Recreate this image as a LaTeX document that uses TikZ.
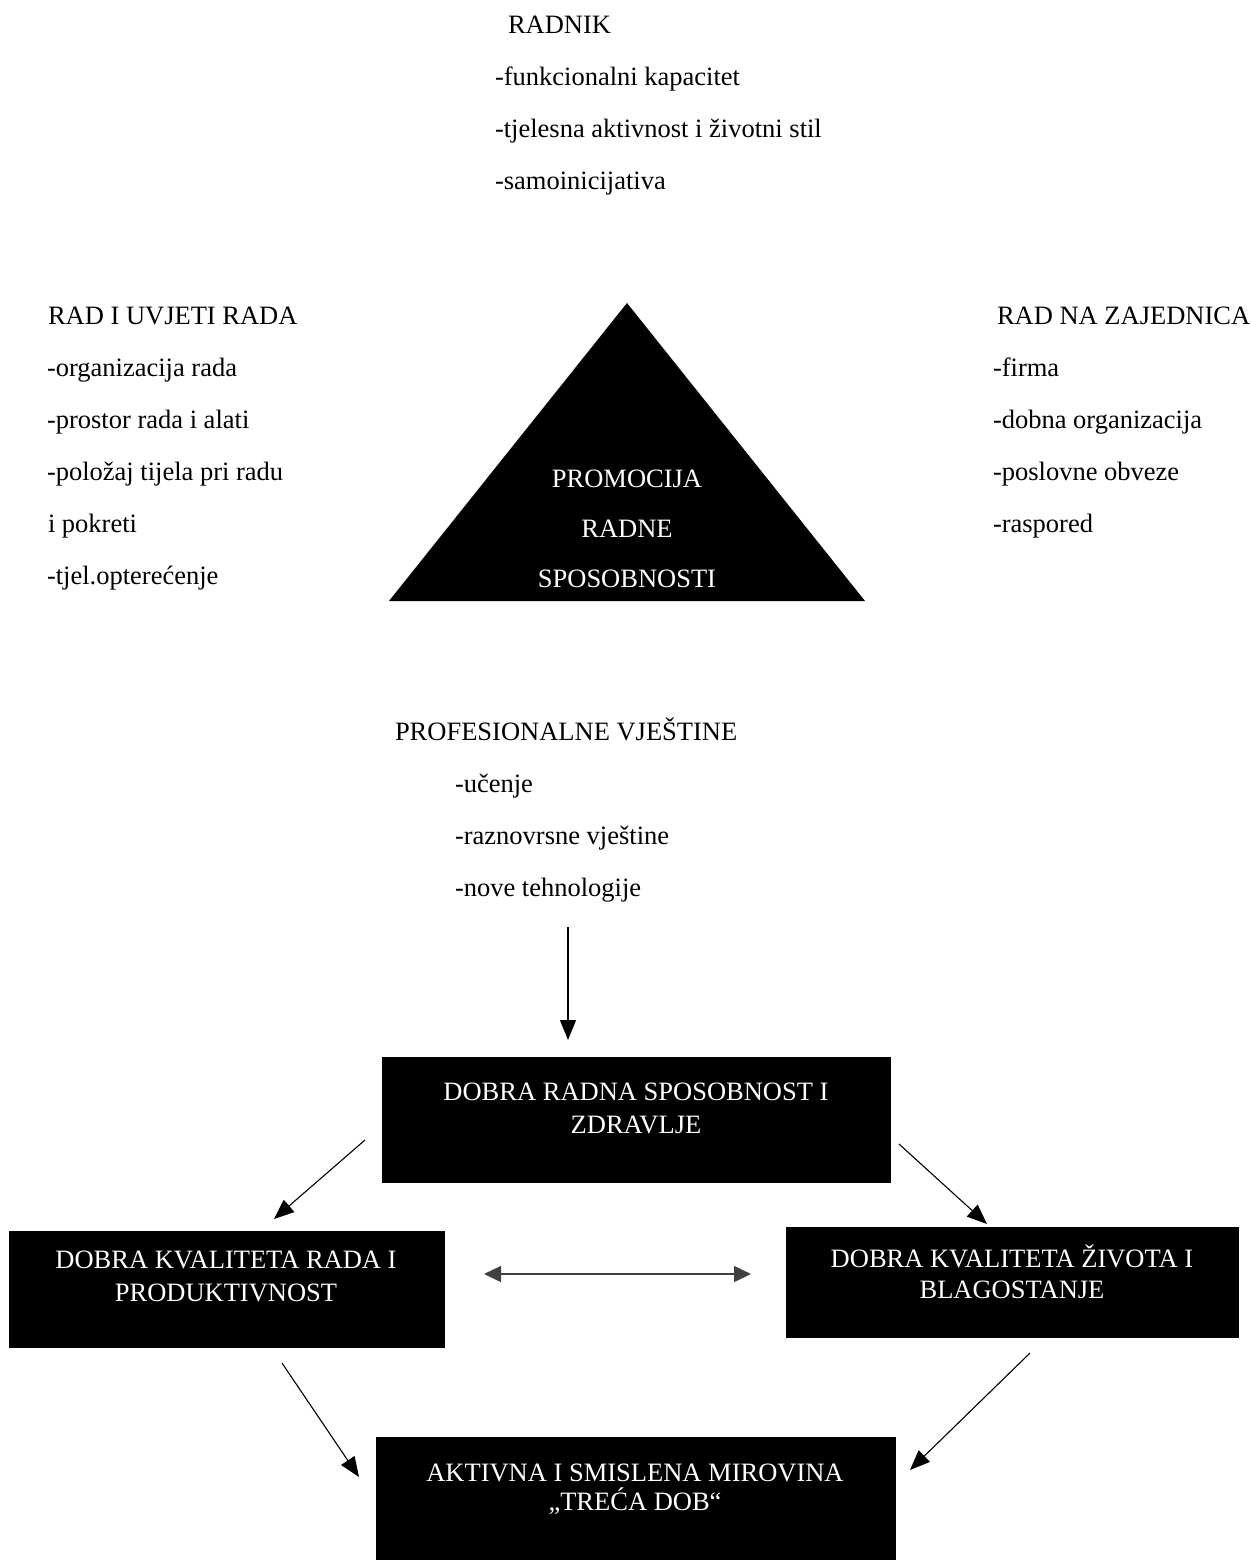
\documentclass[tikz,border=0pt]{standalone}
\usepackage{fontspec}
\setmainfont{Liberation Serif}
\usetikzlibrary{arrows.meta}

\begin{document}
\begin{tikzpicture}[x=0.5pt, y=-0.5pt,
    every node/.style={font=\fontsize{13.25}{16}\selectfont, inner sep=0pt, outer sep=0pt},
    txt/.style={anchor=base west},
    wtxt/.style={anchor=base, text=white},
    blackbox/.style={fill=black, draw=black, line width=0.4pt},
    arr/.style={-{Triangle[length=10pt, width=8pt]}, line width=0.55pt},
    darr/.style={{Triangle[length=8.5pt, width=8pt]}-{Triangle[length=8.5pt, width=8pt]}, line width=0.7pt, draw=black!75}]
    \useasboundingbox (0,0) rectangle (1251,1560);

    \node[txt] (radnik) at (508,33) {RADNIK};
    \node[txt] (radnikA) at (495,85) {-funkcionalni kapacitet};
    \node[txt] (radnikB) at (495,137) {-tjelesna aktivnost i životni stil};
    \node[txt] (radnikC) at (495,189) {-samoinicijativa};

    \node[txt] (uvjeti) at (48,324) {RAD I UVJETI RADA};
    \node[txt] (uvjetiA) at (47,376) {-organizacija rada};
    \node[txt] (uvjetiB) at (47,428) {-prostor rada i alati};
    \node[txt] (uvjetiC) at (47,480) {-položaj tijela pri radu};
    \node[txt] (uvjetiD) at (48,532) {i pokreti};
    \node[txt] (uvjetiE) at (47,584) {-tjel.opterećenje};

    \node[txt] (zajednica) at (997,324) {RAD NA ZAJEDNICA};
    \node[txt] (zajednicaA) at (993,376) {-firma};
    \node[txt] (zajednicaB) at (993,428) {-dobna organizacija};
    \node[txt] (zajednicaC) at (993,480) {-poslovne obveze};
    \node[txt] (zajednicaD) at (993,532) {-raspored};

    \coordinate (apex) at (627,303);
    \coordinate (baseL) at (389,601);
    \coordinate (baseR) at (865,601);
    \fill (apex) -- (baseL) -- (baseR) -- cycle;
    \node[wtxt] (promoA) at (627,487) {PROMOCIJA};
    \node[wtxt] (promoB) at (627,537) {RADNE};
    \node[wtxt] (promoC) at (627,587) {SPOSOBNOSTI};

    \node[txt] (vjestine) at (395,740) {PROFESIONALNE VJEŠTINE};
    \node[txt] (vjestineA) at (455,792) {-učenje};
    \node[txt] (vjestineB) at (455,844) {-raznovrsne vještine};
    \node[txt] (vjestineC) at (455,896) {-nove tehnologije};

    \node[blackbox, minimum width=254pt, minimum height=62.5pt] (health) at (636,1119.5) {};
    \node[wtxt] (healthA) at (636,1100) {DOBRA RADNA SPOSOBNOST I};
    \node[wtxt] (healthB) at (636,1133) {ZDRAVLJE};

    \node[blackbox, minimum width=217.5pt, minimum height=58pt] (work) at (226.5,1289) {};
    \node[wtxt] (workA) at (226,1268) {DOBRA KVALITETA RADA I};
    \node[wtxt] (workB) at (226,1301) {PRODUKTIVNOST};

    \node[blackbox, minimum width=226pt, minimum height=55pt] (life) at (1012,1282) {};
    \node[wtxt] (lifeA) at (1012,1267) {DOBRA KVALITETA ŽIVOTA I};
    \node[wtxt] (lifeB) at (1012,1298) {BLAGOSTANJE};

    \node[blackbox, minimum width=259.5pt, minimum height=62.5pt] (retire) at (635.5,1499.5) {};
    \node[wtxt] (retireA) at (635,1481) {AKTIVNA I SMISLENA MIROVINA};
    \node[wtxt] (retireB) at (635,1510) {„TREĆA DOB“};

    \coordinate (skills) at (568,927);
    \draw[arr, shorten >=8.5pt] (skills) -- (skills |- health.north);

    \coordinate (healthW) at (365,1140);
    \coordinate (workN) at (274,1219);
    \draw[arr] (healthW) -- (workN);

    \coordinate (healthE) at (899,1144);
    \coordinate (lifeN) at (987,1224);
    \draw[arr] (healthE) -- (lifeN);

    \coordinate (workE) at (484,1274);
    \coordinate (lifeW) at (751,1274);
    \draw[darr] (workE) -- (lifeW);

    \coordinate (workS) at (282,1363);
    \coordinate (retireW) at (359,1477);
    \draw[arr] (workS) -- (retireW);

    \coordinate (lifeS) at (1030,1353);
    \coordinate (retireE) at (910,1470);
    \draw[arr] (lifeS) -- (retireE);
\end{tikzpicture}
\end{document}
